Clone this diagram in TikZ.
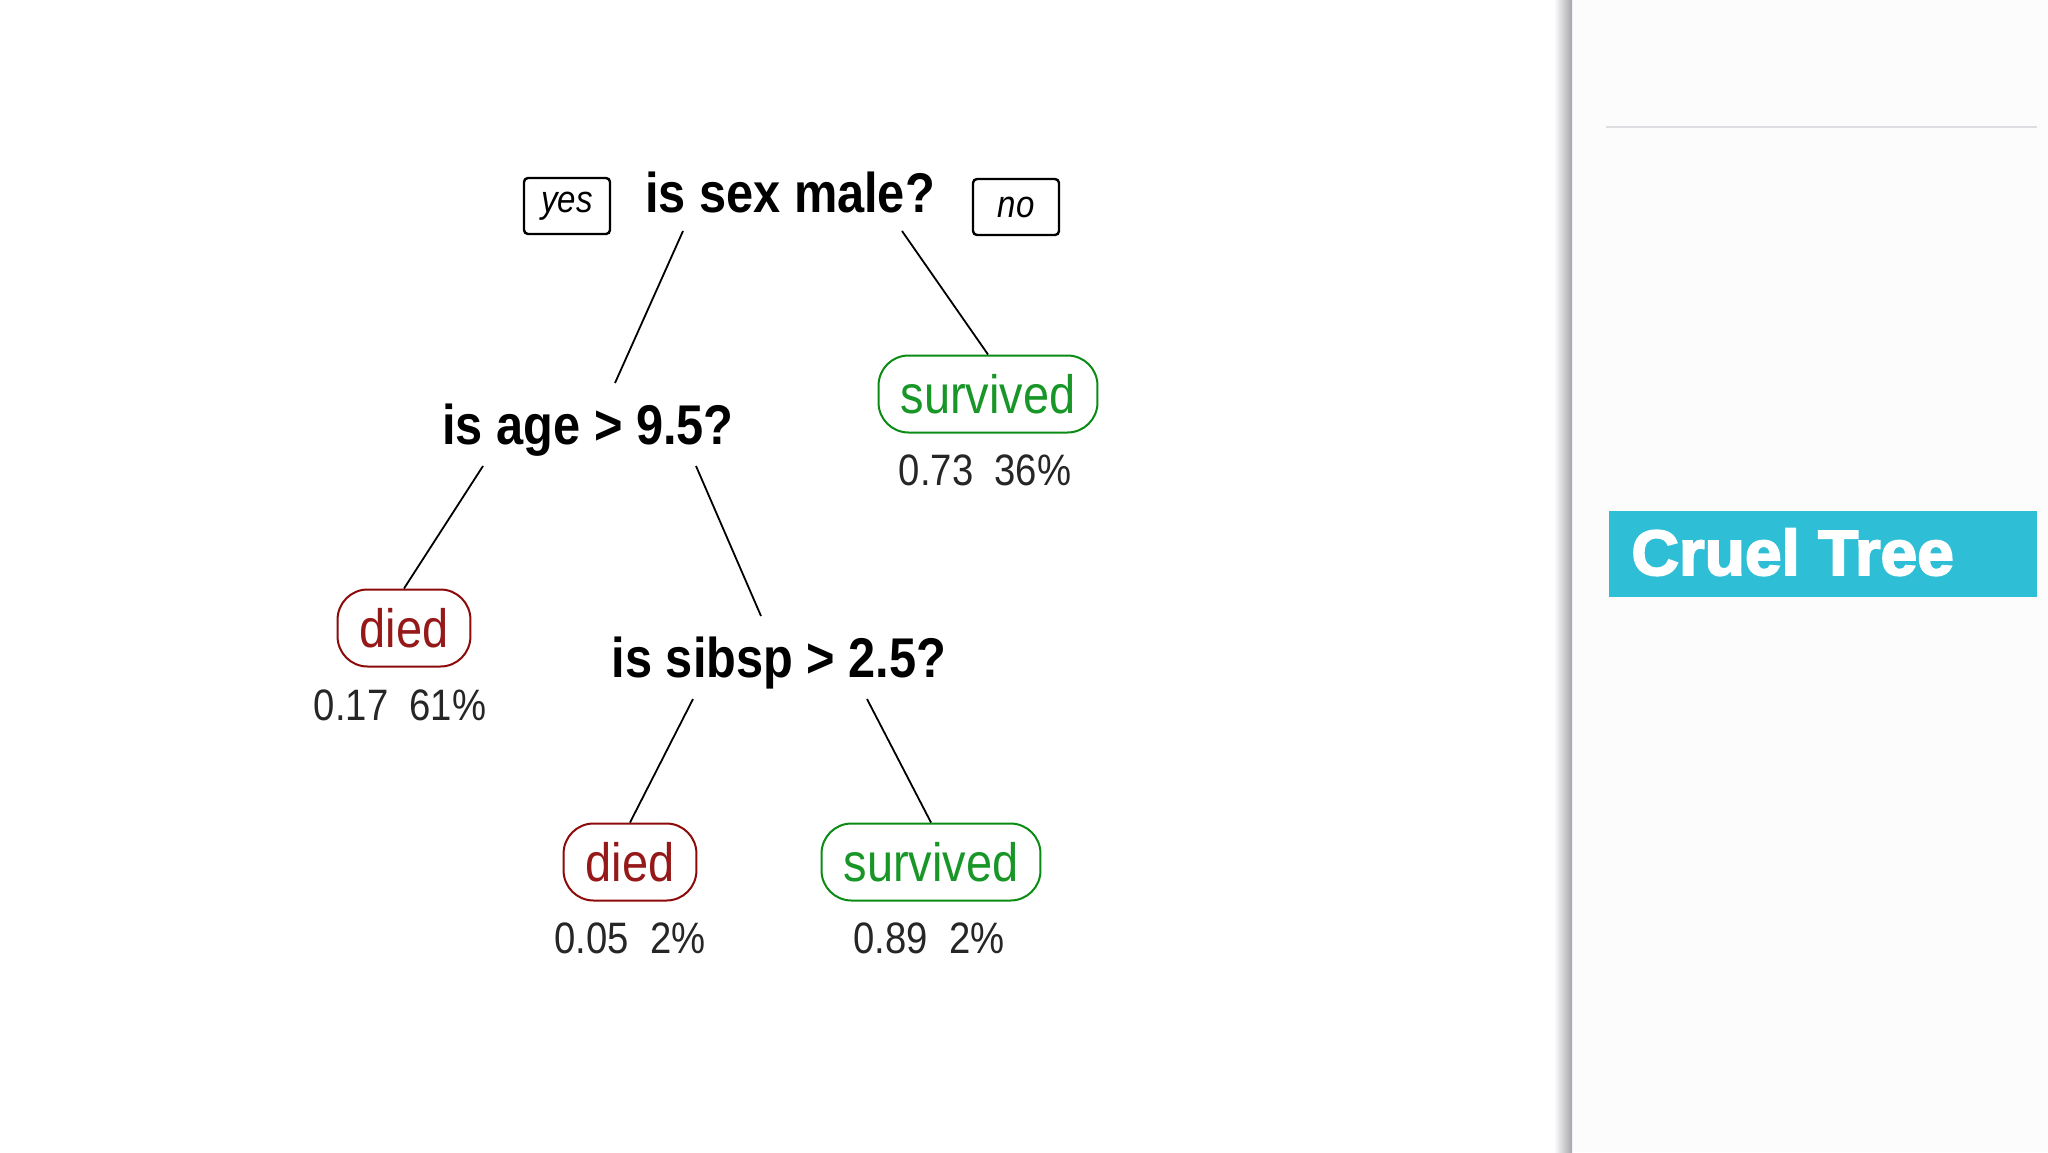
\documentclass[tikz,border=0pt]{standalone}
\usepackage{fontspec}
\setmainfont{Liberation Sans}
\newfontfamily\treefont{Liberation Sans}[FakeStretch=0.87]
\newfontfamily\titlefont{Liberation Sans Bold}[FakeBold=3,FakeStretch=1.03]
\usetikzlibrary{calc}
\definecolor{panelbg}{RGB}{252,252,253}
\definecolor{shadowgray}{RGB}{165,165,170}
\definecolor{rulegray}{RGB}{222,222,226}
\definecolor{titlecyan}{RGB}{46,190,214}
\definecolor{diedborder}{RGB}{140,10,10}
\definecolor{diedtext}{RGB}{150,25,25}
\definecolor{survborder}{RGB}{10,140,20}
\definecolor{survtext}{RGB}{25,150,40}
\begin{document}
\begin{tikzpicture}[x=0.5pt,y=-0.5pt,
  split/.style={font=\treefont\bfseries\fontsize{28}{30}\selectfont, inner sep=0pt, text height=20pt, text depth=0pt},
  leafbase/.style={line width=1pt, rounded corners=15pt, minimum height=38.5pt, inner xsep=11pt, inner ysep=0pt, font=\treefont\fontsize{27}{30}\selectfont},
  diedleaf/.style={leafbase, draw=diedborder, text=diedtext},
  survleaf/.style={leafbase, draw=survborder, text=survtext},
  stat/.style={font=\treefont\fontsize{22}{24}\selectfont, inner sep=0pt, text=black!85},
  yesno/.style={draw=black, line width=1.2pt, rounded corners=2pt, font=\treefont\itshape\fontsize{19}{22}\selectfont, minimum width=43pt, minimum height=28pt, inner sep=0pt},
  edge/.style={draw=black, line width=0.9pt}
]
\useasboundingbox (0,0) rectangle (2048,1152);
\fill[white] (0,0) rectangle (2048,1152);
\fill[panelbg] (1572,0) rectangle (2048,1152);
\shade[left color=white, right color=shadowgray] (1554,0) rectangle (1572,1152);
\draw[rulegray, line width=1pt] (1606,127) -- (2037,127);
\node[fill=titlecyan, minimum width=214pt, minimum height=43pt, inner sep=0pt] (titlebox) at (1823,554) {};
\node[anchor=west, inner sep=0pt, text height=23pt, text depth=0pt, text=white, font=\titlefont\fontsize{32}{36}\selectfont] (title) at (1631,552) {Cruel Tree};

% split nodes
\node[split] (sex) at (790,192) {is sex male?};
\node[split] (age) at (588,424) {is age > 9.5?};
\node[split] (sibsp) at (779,657) {is sibsp > 2.5?};

% yes / no
\node[yesno] (yes) at (567,206) {yes};
\node[yesno] (no) at (1016,207) {no};

% leaves
\node[survleaf] (surv1) at (988,394) {survived};
\node[diedleaf] (died1) at (404,628) {died};
\node[diedleaf] (died2) at (630,862) {died};
\node[survleaf] (surv2) at (931,862) {survived};

% stats
\node[stat] (n1) at (985,470) {0.73~~36\%};
\node[stat] (n2) at (400,705) {0.17~~61\%};
\node[stat] (n3) at (630,938) {0.05~~2\%};
\node[stat] (n4) at (929,938) {0.89~~2\%};

% edges
\draw[edge] ($(sex)+(-107,39)$) -- ($(age)+(27,-41)$);
\draw[edge] ($(sex)+(112,39)$) -- (surv1.north);
\draw[edge] ($(age)+(-105,42)$) -- (died1.north);
\draw[edge] ($(age)+(108,42)$) -- ($(sibsp)+(-18,-41)$);
\draw[edge] ($(sibsp)+(-86,42)$) -- (died2.north);
\draw[edge] ($(sibsp)+(88,42)$) -- (surv2.north);
\end{tikzpicture}
\end{document}
